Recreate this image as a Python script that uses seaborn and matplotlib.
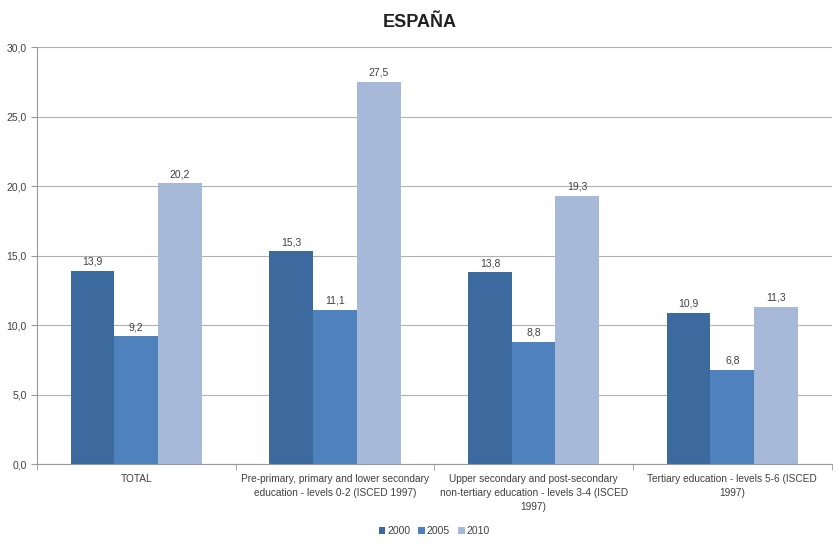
import pandas as pd
import numpy as np
import seaborn as sns
import matplotlib.pyplot as plt
from matplotlib.ticker import FuncFormatter, FixedLocator

categories = [
    'TOTAL',
    'Pre-primary, primary and lower secondary\neducation - levels 0-2 (ISCED 1997)',
    'Upper secondary and post-secondary\nnon-tertiary education - levels 3-4 (ISCED\n1997)',
    'Tertiary education - levels 5-6 (ISCED\n1997)',
]
years = ['2000', '2005', '2010']
v2000 = [13.9, 15.3, 13.8, 10.9]
v2005 = [9.2, 11.1, 8.8, 6.8]
v2010 = [20.2, 27.5, 19.3, 11.3]

data = pd.DataFrame({
    'cat': categories * 3,
    'year': [y for y in years for _ in categories],
    'val': v2000 + v2005 + v2010,
})

sns.set_style('white')
plt.rcParams['font.family'] = ['Liberation Sans', 'DejaVu Sans']

colors = ['#3d6a9e', '#4f81bd', '#a7b9d9']

fig = plt.figure(figsize=(8.4, 5.48), dpi=100)
ax = fig.add_axes([0.044, 0.153, 0.946, 0.761])
sns.barplot(data=data, x='cat', y='val', hue='year', palette=colors,
            width=0.66, saturation=1, linewidth=0, ax=ax, legend=True)

ax.set_ylim(0, 30)
ax.set_xlim(-0.5, 3.5)
ax.set_yticks(np.arange(0, 31, 5))
ax.yaxis.set_major_formatter(FuncFormatter(lambda v, p: f'{v:.1f}'.replace('.', ',')))
ax.yaxis.grid(True, color='#b0b0b0', linewidth=0.8)
ax.set_axisbelow(True)
for s in ['top', 'right']:
    ax.spines[s].set_visible(False)
for s in ['left', 'bottom']:
    ax.spines[s].set_color('#999999')
    ax.spines[s].set_linewidth(0.8)

ax.tick_params(axis='y', labelsize=7.5, colors='#404040', left=True, length=4, color='#999999')
ax.tick_params(axis='x', labelsize=7.3, colors='#404040', length=0, pad=7)
ax.xaxis.set_minor_locator(FixedLocator([-0.5, 0.5, 1.5, 2.5, 3.5]))
ax.tick_params(axis='x', which='minor', length=4, color='#999999', bottom=True)
ax.set_xlabel('')
ax.set_ylabel('')
for t in ax.get_xticklabels():
    t.set_linespacing(1.5)

for cont in ax.containers:
    ax.bar_label(cont, labels=[f'{b.get_height():.1f}'.replace('.', ',') for b in cont],
                 fontsize=7.5, color='#404040', padding=3)

leg = ax.legend(loc='center', bbox_to_anchor=(0.5, -0.161), ncol=3, frameon=False,
                fontsize=7.5, handlelength=0.6, handleheight=0.6, handletextpad=0.2,
                columnspacing=0.8, labelcolor='#404040', borderaxespad=0, borderpad=0)

fig.suptitle('ESPAÑA', fontsize=13, fontweight='bold', y=0.975, color='#202020')
fig.savefig('out.png', dpi=100)
